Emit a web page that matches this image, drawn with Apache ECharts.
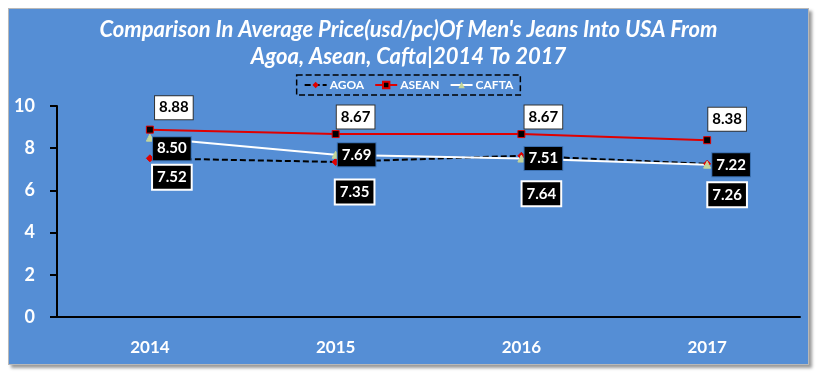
<!DOCTYPE html>
<html>
<head>
<meta charset="utf-8">
<script src="https://cdn.jsdelivr.net/npm/echarts@6/dist/echarts.min.js"></script>
<style>
  html, body { margin: 0; padding: 0; background: #fff; width: 820px; height: 377px; overflow: hidden; }
  #chart {
    position: absolute; left: 8px; top: 8px; width: 799px; height: 355px;
    border: 1px solid #b8b8b8; box-shadow: 3px 3px 3px #9a9a9a;
  }
</style>
</head>
<body>
<div id="chart"></div>
<script>
const years = ['2014', '2015', '2016', '2017']
const agoa = [7.52, 7.35, 7.64, 7.26]
const asean = [8.88, 8.67, 8.67, 8.38]
const cafta = [8.50, 7.69, 7.51, 7.22]

// label placement relative to each point (layout only)
const agoaOff = [[22, 19], [19, 30], [20, 38], [20, 31]]
const aseanOff = [[24, -22], [20, -17], [22, -17], [20, -21]]
const caftaOff = [[22, 11], [21, 0], [22, 0], [24, 0]]

const FONT = 'Lato, "Open Sans", sans-serif'

function withOffsets(vals, offs) {
  return vals.map((v, i) => ({ value: v, label: { offset: offs[i] } }))
}

const baseLabel = {
  show: true, position: 'inside', fontFamily: FONT, fontWeight: 'bold', fontSize: 15,
  lineHeight: 17, padding: [3, 4, 3, 4], formatter: p => p.value.toFixed(2),
}

const chart = echarts.init(document.getElementById('chart'))
chart.setOption({
  backgroundColor: '#558ed5',
  animation: false,
  title: {
    text: "Comparison In Average Price(usd/pc)Of Men's Jeans Into USA From\nAgoa, Asean, Cafta|2014 To 2017",
    left: 'center', top: 2,
    textStyle: { color: '#fff', fontFamily: FONT, fontStyle: 'italic', fontWeight: 'bold', fontSize: 22, lineHeight: 27, align: 'center' },
  },
  legend: {
    top: 66, left: 'center',
    borderColor: '#000', borderWidth: 1.5, borderType: 'dashed', padding: [4, 7],
    itemWidth: 22, itemHeight: 8, itemGap: 10,
    textStyle: { color: '#fff', fontFamily: FONT, fontWeight: 'bold', fontSize: 12, padding: [0, 0, 0, -2] },
    data: ['AGOA', 'ASEAN', 'CAFTA'],
  },
  grid: { left: 48, right: 8, top: 97, bottom: 47 },
  xAxis: {
    type: 'category', data: years, boundaryGap: true,
    axisLine: { lineStyle: { color: '#000', width: 2 } },
    axisTick: { show: false },
    axisLabel: { color: '#fff', fontFamily: FONT, fontWeight: 'bold', fontSize: 17, margin: 22 },
  },
  yAxis: {
    type: 'value', min: 0, max: 10, interval: 2,
    axisLine: { show: true, lineStyle: { color: '#000', width: 2 } },
    axisTick: { show: true, length: 7, lineStyle: { color: '#000', width: 2 } },
    splitLine: { show: false },
    axisLabel: { color: '#fff', fontFamily: FONT, fontWeight: 'bold', fontSize: 18, margin: 22 },
  },
  series: [
    {
      name: 'AGOA', type: 'line', data: withOffsets(agoa, agoaOff),
      symbol: 'diamond', symbolSize: 7,
      lineStyle: { color: '#000', width: 2, type: [6, 3] },
      itemStyle: { color: '#e00000', borderColor: '#e00000' },
      label: { ...baseLabel, color: '#fff', backgroundColor: '#000', borderColor: '#fff', borderWidth: 2 },
    },
    {
      name: 'ASEAN', type: 'line', data: withOffsets(asean, aseanOff),
      symbol: 'rect', symbolSize: 7,
      lineStyle: { color: '#e00000', width: 2 },
      itemStyle: { color: '#000', borderColor: '#e00000', borderWidth: 1 },
      label: { ...baseLabel, color: '#000', backgroundColor: '#fff', borderColor: '#333', borderWidth: 1 },
    },
    {
      name: 'CAFTA', type: 'line', data: withOffsets(cafta, caftaOff),
      symbol: 'triangle', symbolSize: 7,
      lineStyle: { color: '#fff', width: 2 },
      itemStyle: { color: '#c3d69b', borderColor: '#c3d69b' },
      label: { ...baseLabel, color: '#fff', backgroundColor: '#000', borderColor: '#3a6fb0', borderWidth: 1 },
    },
  ],
})
</script>
</body>
</html>
